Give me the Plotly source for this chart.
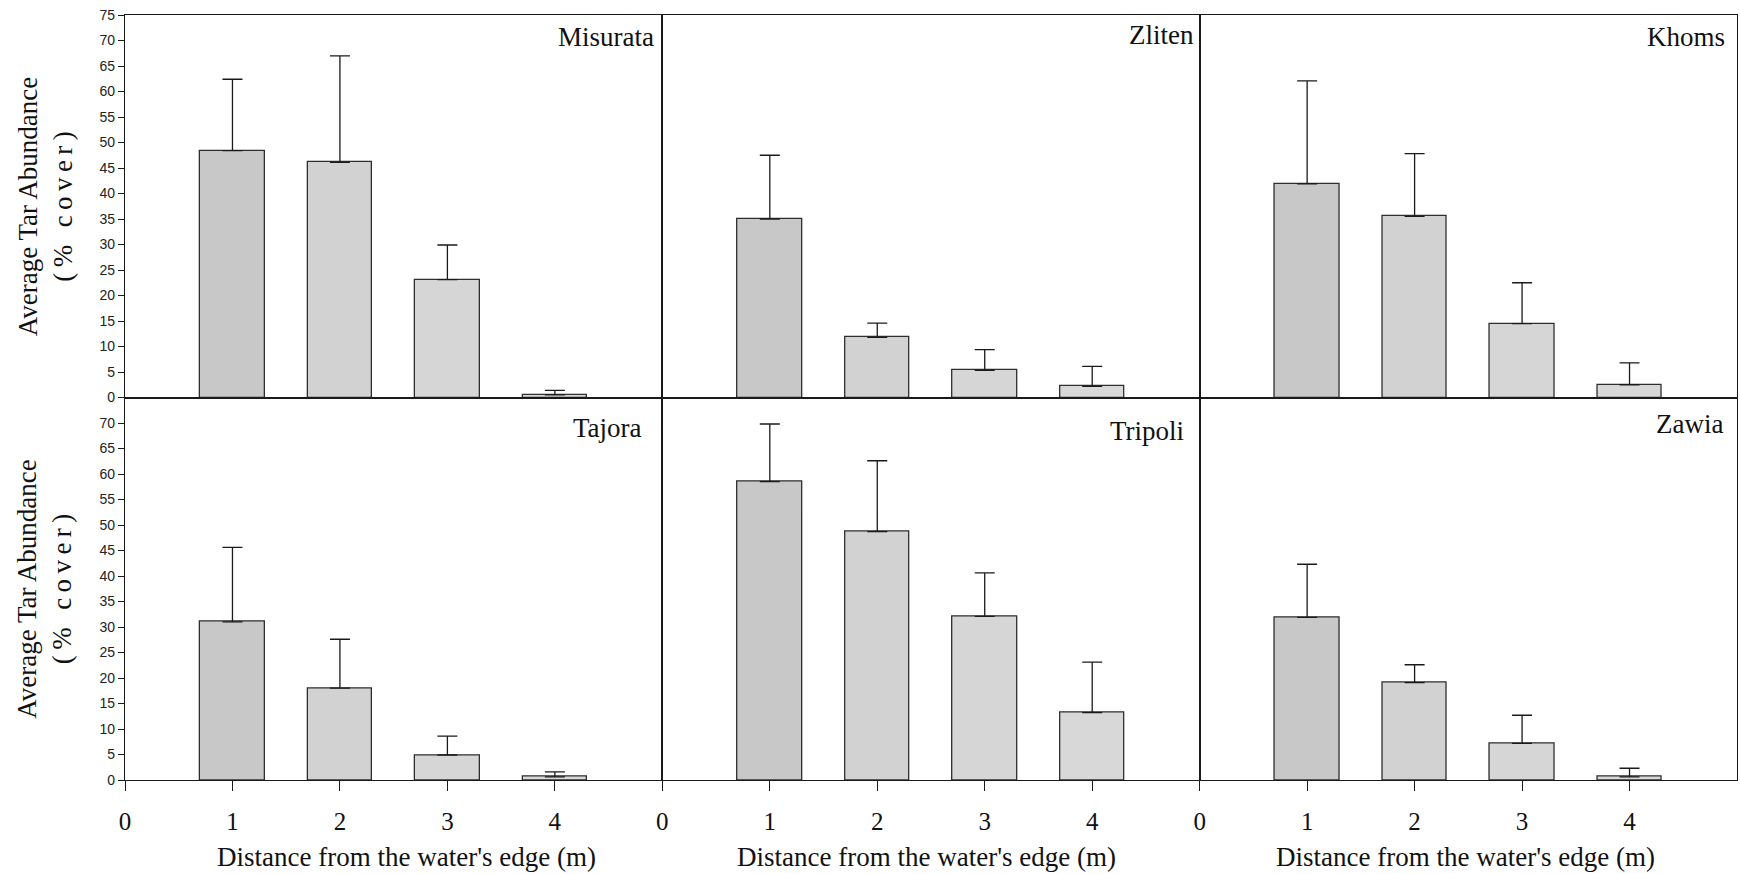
import plotly.graph_objects as go
from plotly.subplots import make_subplots

# ---------------- data ----------------
distances = [1, 2, 3, 4]
x_tick_vals = [0, 1, 2, 3, 4]
x_tick_text = ["0", "1", "2", "3", "4"]

sites = ["Misurata", "Zliten", "Khoms", "Tajora", "Tripoli", "Zawia"]

misurata_mean = [48.4, 46.1, 23.1, 0.5]
misurata_se = [14.0, 20.9, 6.8, 0.9]
zliten_mean = [35.0, 11.8, 5.3, 2.2]
zliten_se = [12.5, 2.8, 4.1, 3.9]
khoms_mean = [41.9, 35.5, 14.5, 2.5]
khoms_se = [20.2, 12.3, 8.0, 4.3]
tajora_mean = [31.0, 18.0, 4.9, 0.6]
tajora_se = [14.6, 9.6, 3.7, 1.0]
tripoli_mean = [58.5, 48.7, 32.1, 13.2]
tripoli_se = [11.3, 13.9, 8.5, 9.9]
zawia_mean = [31.9, 19.1, 7.2, 0.6]
zawia_se = [10.4, 3.5, 5.5, 1.7]

means = [misurata_mean, zliten_mean, khoms_mean, tajora_mean, tripoli_mean, zawia_mean]
ses = [misurata_se, zliten_se, khoms_se, tajora_se, tripoli_se, zawia_se]

top_ticks = list(range(0, 80, 5))      # 0..75
bottom_ticks = list(range(0, 75, 5))   # 0..70

y_title_line1 = "Average Tar Abundance"
y_title_line2 = "(% cover)"
x_title = "Distance from the water's edge (m)"

# ---------------- styling ----------------
W, H = 1740, 874
ML, MR, MT, MB = 125, 3, 15, 94
PW, PH = W - ML - MR, H - MT - MB
SERIF = "Liberation Serif, Times New Roman, serif"
SANS = "Liberation Sans, Arial, sans-serif"
LINE = "#1a1a1a"
bar_fill = ["#c8c8c8", "#d2d2d2", "#d6d6d6", "#d8d8d8"]

fig = make_subplots(rows=2, cols=3, horizontal_spacing=0, vertical_spacing=0)

for i, (m, s) in enumerate(zip(means, ses)):
    r = i // 3 + 1
    c = i % 3 + 1
    fig.add_trace(
        go.Bar(
            x=distances, y=m, width=0.6,
            marker=dict(color=bar_fill, line=dict(color="#2e2e2e", width=1.3)),
            error_y=dict(type="data", symmetric=False, array=s,
                         arrayminus=[0] * len(s), color=LINE,
                         thickness=1.3, width=10),
            showlegend=False,
        ),
        row=r, col=c,
    )

for i in range(6):
    r = i // 3 + 1
    c = i % 3 + 1
    bottom = r == 2
    fig.update_xaxes(
        range=[0, 5], showgrid=False, zeroline=False,
        showline=True, linecolor=LINE, linewidth=1.1, mirror=True,
        ticks="outside" if bottom else "", ticklen=10, tickcolor=LINE, tickwidth=1.2,
        tickvals=x_tick_vals, ticktext=x_tick_text,
        showticklabels=bottom, ticklabelstandoff=9,
        tickfont=dict(family=SERIF, size=25, color="#111"),
        row=r, col=c,
    )
    fig.update_yaxes(
        range=[0, 75], showgrid=False, zeroline=False,
        showline=True, linecolor=LINE, linewidth=1.1, mirror=True,
        ticks="outside" if c == 1 else "", ticklen=6, tickcolor=LINE, tickwidth=1.1,
        tickvals=bottom_ticks if bottom else top_ticks,
        showticklabels=(c == 1),
        tickfont=dict(family=SANS, size=14, color="#222"),
        row=r, col=c,
    )

def px_x(px):
    return (px - ML) / PW

def px_y(py):
    return (H - MB - py) / PH

spaced_line2 = "\u2009".join(list(y_title_line2))

anns = []
# y-axis titles
for yc in (0.75, 0.25):
    anns.append(dict(
        text=y_title_line1 + "<br>" + spaced_line2, textangle=-90,
        xref="paper", yref="paper", x=px_x(45), y=yc,
        xanchor="center", yanchor="middle", showarrow=False,
        font=dict(family=SERIF, size=27, color="#111"),
    ))
# x-axis titles
for xc in (406, 926, 1465):
    anns.append(dict(
        text=x_title,
        xref="paper", yref="paper", x=px_x(xc), y=px_y(857),
        xanchor="center", yanchor="middle", showarrow=False,
        font=dict(family=SERIF, size=27, color="#111"),
    ))
# panel labels
label_pos = [(656, 37), (1196, 35), (1727, 37), (644, 428), (1186, 431), (1725, 424)]
for name, (lx, ly) in zip(sites, label_pos):
    anns.append(dict(
        text=name, xref="paper", yref="paper", x=px_x(lx), y=px_y(ly),
        xanchor="right", yanchor="middle", showarrow=False,
        font=dict(family=SERIF, size=27, color="#111"),
    ))

fig.update_layout(
    width=W, height=H,
    margin=dict(l=ML, r=MR, t=MT, b=MB),
    paper_bgcolor="white", plot_bgcolor="white",
    bargap=0, annotations=anns,
)

fig.write_html("out.html")
